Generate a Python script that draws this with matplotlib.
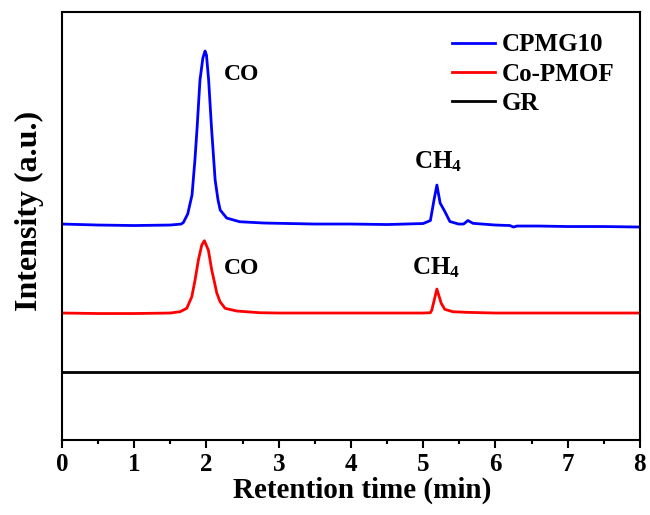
import matplotlib
matplotlib.use("Agg")
import matplotlib.pyplot as plt

plt.rcParams['font.family'] = 'Liberation Serif'
plt.rcParams['font.weight'] = 'bold'
plt.rcParams['mathtext.fontset'] = 'custom'
plt.rcParams['mathtext.rm'] = 'Liberation Serif:bold'
plt.rcParams['mathtext.bf'] = 'Liberation Serif:bold'
plt.rcParams['mathtext.default'] = 'bf'

# retention time (min) and intensity (a.u., stacked offsets)
t_cpmg = [0.00, 0.50, 1.00, 1.50, 1.65, 1.68, 1.74, 1.80, 1.84, 1.87, 1.91, 1.95, 1.98,
          2.00, 2.03, 2.07, 2.12, 2.16, 2.19, 2.28, 2.46, 2.80, 3.50, 4.00, 4.50, 5.00,
          5.10, 5.15, 5.19, 5.235, 5.30, 5.37, 5.49, 5.56, 5.62, 5.69, 6.00, 6.20, 6.25,
          6.30, 6.60, 7.00, 7.50, 8.00]
i_cpmg = [216, 215, 214.5, 215, 216, 217.5, 226, 245, 280, 312, 360, 382, 389,
          385, 360, 312, 260, 240, 230, 222, 218.3, 217, 216, 216, 215.5, 216.5,
          219.5, 240, 255, 237, 228.5, 218.5, 216, 216, 219.5, 216.7, 215, 214.5, 213,
          214, 214, 213.5, 213.5, 213]

t_copmof = [0.00, 0.50, 1.00, 1.50, 1.60, 1.634, 1.727, 1.797, 1.842, 1.888, 1.935, 1.971,
            2.026, 2.073, 2.119, 2.143, 2.188, 2.258, 2.42, 2.74, 3.00, 4.00, 5.00, 5.10,
            5.12, 5.19, 5.25, 5.30, 5.41, 5.60, 6.00, 7.00, 8.00]
i_copmof = [127, 126.5, 126.5, 127, 128, 128.3, 131.7, 143.3, 160, 180, 195, 199.3,
            190, 170, 155, 147, 138.3, 131.7, 129, 127.3, 127, 127, 127, 127.3,
            130, 151, 136.7, 130.7, 128.3, 127.7, 127, 127, 127]

t_gr = [0.0, 2.0, 4.0, 6.0, 8.0]
i_gr = [68, 68, 68, 68, 68]

fig = plt.figure(figsize=(6.5, 5.15), dpi=100)
ax = fig.add_axes([0.0954, 0.1456, 0.889, 0.831])

ax.plot(t_cpmg, i_cpmg, color='#0000ff', lw=2.0, label='CPMG10')
ax.plot(t_copmof, i_copmof, color='#ff0000', lw=2.0, label='Co-PMOF')
ax.plot(t_gr, i_gr, color='black', lw=2.0, label='GR')

ax.text(2.24, 366, 'CO', fontsize=17, fontweight='bold', va='center')
ax.text(4.87, 278, r'CH$_4$', fontsize=18, va='center')
ax.text(2.24, 171.5, 'CO', fontsize=17, fontweight='bold', va='center')
ax.text(4.85, 172, r'CH$_4$', fontsize=18, va='center')

ax.set_xlim(0, 8)
ax.set_ylim(0, 428)
ax.set_xticks(range(0, 9))
ax.set_xticks([x + 0.5 for x in range(8)], minor=True)
ax.set_yticks([])
ax.tick_params(axis='x', which='major', direction='out', length=6, width=1.5, labelsize=18, pad=3)
ax.tick_params(axis='x', which='minor', direction='out', length=3, width=1.5)
for sp in ax.spines.values():
    sp.set_linewidth(1.5)

ax.set_xlabel('Retention time (min)', fontsize=21, fontweight='bold')
ax.set_ylabel('Intensity (a.u.)', fontsize=23, fontweight='bold')
ax.xaxis.set_label_coords(0.519, -0.085)
ax.yaxis.set_label_coords(-0.031, 0.535)

ax.legend(loc='upper left', bbox_to_anchor=(0.675, 0.950), frameon=False, fontsize=18,
          handlelength=1.7, handletextpad=0.3, labelspacing=0.25, borderpad=0, borderaxespad=0)

fig.savefig('out.png', dpi=100)
